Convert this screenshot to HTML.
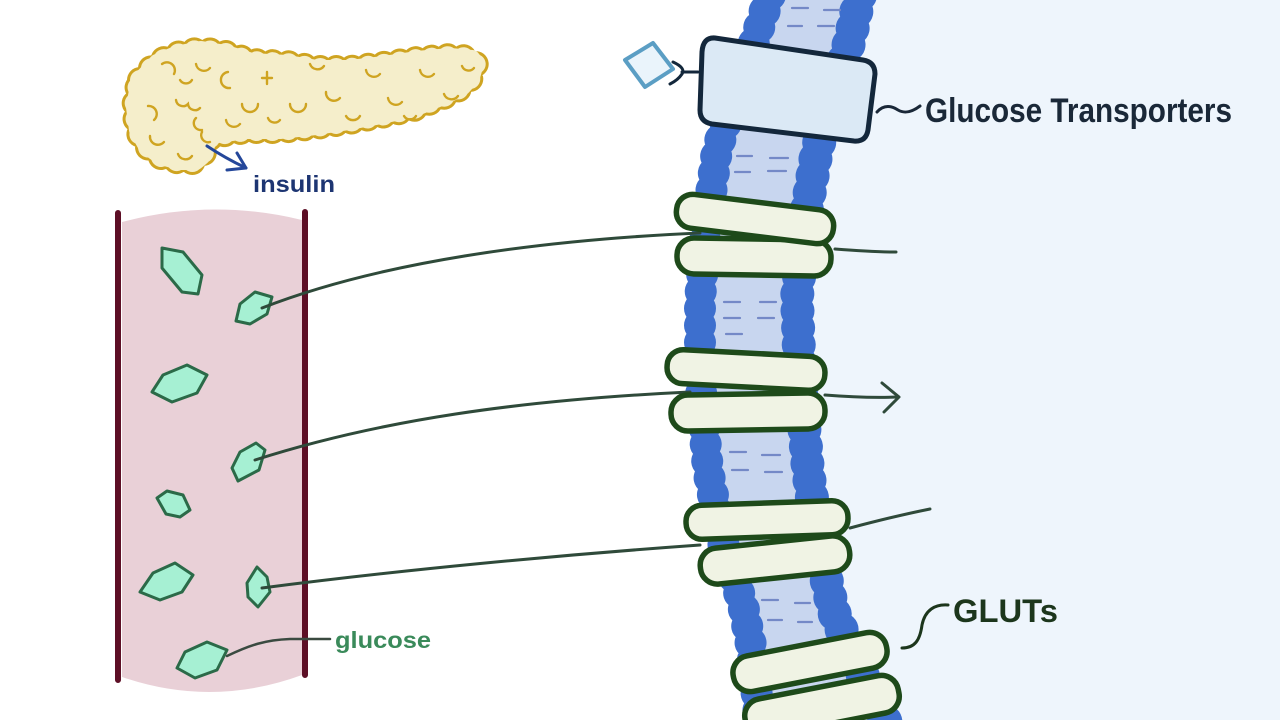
<!DOCTYPE html>
<html><head><meta charset="utf-8"><style>
html,body{margin:0;padding:0;background:#fff;}
svg{display:block;}
text{font-family:"Liberation Sans",sans-serif;font-weight:bold;}
</style></head><body>
<svg width="1280" height="720" viewBox="0 0 1280 720" xmlns="http://www.w3.org/2000/svg">
<rect width="1280" height="720" fill="#ffffff"/>
<!-- right background -->
<path d="M860,0 L850,40 L833,95 L817,150 L805,220 L797,297 L800,380 L808,470 L818,540 L833,610 L855,660 L887,720 L1280,720 L1280,0 Z" fill="#eef5fc"/>

<!-- pancreas -->
<g>
<path d="M140,80 L157,62 L176,54 L201,49 L226,53 L252,61 L287,63 L317,68 L350,68 L383,64 L417,59 L450,56 L472,58 L476,63 L472,77 L463,87 L446,96 L414,109 L381,116 L349,122 L316,127 L280,131 L247,131 L211,136 L202,157 L196,162 L180,162 L161,157 L146,146 L137,130 L134,107 L138,85 Z" fill="none" stroke="#cfa421" stroke-width="26" stroke-linecap="round" stroke-linejoin="round" stroke-dasharray="0.01 16"/>
<path d="M140,80 L157,62 L176,54 L201,49 L226,53 L252,61 L287,63 L317,68 L350,68 L383,64 L417,59 L450,56 L472,58 L476,63 L472,77 L463,87 L446,96 L414,109 L381,116 L349,122 L316,127 L280,131 L247,131 L211,136 L202,157 L196,162 L180,162 L161,157 L146,146 L137,130 L134,107 L138,85 Z" fill="none" stroke="#f5eecb" stroke-width="20" stroke-linecap="round" stroke-linejoin="round" stroke-dasharray="0.01 16"/>
<path d="M140,80 L157,62 L176,54 L201,49 L226,53 L252,61 L287,63 L317,68 L350,68 L383,64 L417,59 L450,56 L472,58 L476,63 L472,77 L463,87 L446,96 L414,109 L381,116 L349,122 L316,127 L280,131 L247,131 L211,136 L202,157 L196,162 L180,162 L161,157 L146,146 L137,130 L134,107 L138,85 Z" fill="#f5eecb" stroke="#f5eecb" stroke-width="16" stroke-linejoin="round"/>
<g fill="none" stroke="#cfa421" stroke-width="2.4" stroke-linecap="round">
<path d="M228,72 a8,8 0 1 0 2,16"/>
<path d="M242,104 a8,8 0 0 0 16,0"/>
<path d="M262,78 l10,0 M267,72 l0,12"/>
<path d="M290,104 a8,8 0 0 0 16,0"/>
<path d="M326,92 a8,8 0 0 0 14,6"/>
<path d="M366,70 a8,8 0 0 0 14,4"/>
<path d="M388,98 a8,8 0 0 0 14,4"/>
<path d="M420,70 a8,8 0 0 0 14,4"/>
<path d="M444,94 a8,8 0 0 0 14,2"/>
<path d="M162,64 a8,8 0 0 1 12,10"/>
<path d="M148,106 a8,8 0 0 1 6,14"/>
<path d="M150,136 a8,8 0 0 0 14,6"/>
<path d="M178,154 a8,8 0 0 0 14,2"/>
<path d="M226,120 a8,8 0 0 0 14,4"/>
<path d="M462,66 a7,7 0 0 0 12,2"/>
<path d="M310,64 a8,8 0 0 0 14,2"/>
<path d="M346,116 a8,8 0 0 0 14,0"/>
<path d="M196,64 a8,8 0 0 0 14,4"/>
<path d="M404,116 a7,7 0 0 0 12,0"/>
<path d="M268,118 a7,7 0 0 0 12,2"/>
<path d="M176,100 a7,7 0 0 0 12,4 a7,7 0 0 0 12,4 M196,118 a7,7 0 0 0 6,12 M202,132 a7,7 0 0 0 8,10"/>
<path d="M180,80 a7,7 0 0 0 12,0"/>
</g>
</g>
<!-- insulin arrow -->
<path d="M207,146 Q225,158 246,168" fill="none" stroke="#24479a" stroke-width="3" stroke-linecap="round"/>
<path d="M227,170 L246,168 L237,153" fill="none" stroke="#24479a" stroke-width="3" stroke-linecap="round" stroke-linejoin="round"/>
<text x="253" y="192" font-size="23" fill="#1d3572" textLength="82" lengthAdjust="spacingAndGlyphs">insulin</text>

<!-- vessel -->
<path d="M122,222 Q212,198 302,220 L302,675 Q212,708 122,677 Z" fill="#e9d0d7"/>
<path d="M118,213 L118,680 M305,212 L305,675" stroke="#5d0f26" stroke-width="6" stroke-linecap="round" fill="none"/>

<!-- glucose hexagons -->
<g fill="#a6f0d3" stroke="#2b6a48" stroke-width="3" stroke-linejoin="round">
<polygon points="162,248 183,252 202,275 198,294 182,292 162,268"/>
<polygon points="236,321 240,304 255,292 272,297 267,314 250,324"/>
<polygon points="152,392 163,375 187,365 207,375 197,393 172,402"/>
<polygon points="232,468 240,452 256,443 265,450 259,470 238,481"/>
<polygon points="157,498 167,491 183,495 190,510 180,517 166,514"/>
<polygon points="140,592 153,573 175,563 193,575 182,592 160,600"/>
<polygon points="247,583 257,567 267,577 270,592 258,607 248,597"/>
<polygon points="177,668 185,652 207,642 227,650 217,670 195,678"/>
</g>
<path d="M227,656 C250,645 265,640 290,639 L330,639" fill="none" stroke="#3a4a40" stroke-width="2.5" stroke-linecap="round"/>
<text x="335" y="648" font-size="23" fill="#3a8a5a" textLength="96" lengthAdjust="spacingAndGlyphs">glucose</text>

<!-- membrane -->
<path d="M770,0 L755,40 L735,95 L717,150 L706,230 L700,300 L700,380 L708,470 L722,540 L743,605 L752,650 L760,720 L887,720 L855,660 L833,610 L818,540 L808,470 L800,380 L797,297 L805,220 L817,150 L833,95 L850,40 L860,0 Z" fill="#c8d6ef"/>
<g fill="none" stroke="#3d6fce" stroke-linecap="round" stroke-linejoin="round">
<path d="M770,0 L755,40 L735,95 L717,150 L706,230 L700,300 L700,380 L708,470 L722,540 L743,605 L752,650 L760,720" stroke-width="20"/>
<path d="M770,-5 L755,40 L735,95 L717,150 L706,230 L700,300 L700,380 L708,470 L722,540 L743,605 L752,650 L760,725" stroke-width="32" stroke-dasharray="0.01 17"/>
<path d="M860,0 L850,40 L833,95 L817,150 L805,220 L797,297 L800,380 L808,470 L818,540 L833,610 L855,660 L887,720" stroke-width="22"/>
<path d="M860,-5 L850,40 L833,95 L817,150 L805,220 L797,297 L800,380 L808,470 L818,540 L833,610 L855,660 L887,725" stroke-width="34" stroke-dasharray="0.01 17"/>
</g>
<g stroke="#7489c7" stroke-width="2.2" stroke-linecap="round">
<path d="M792,8 L808,8 M824,10 L840,10 M788,26 L802,26 M818,26 L834,26"/>
<path d="M737,156 L752,156 M770,158 L788,158 M735,172 L750,172 M768,171 L786,171"/>
<path d="M724,302 L740,302 M760,302 L776,302 M724,318 L740,318 M758,318 L774,318 M726,334 L742,334"/>
<path d="M730,452 L746,452 M762,455 L780,455 M732,470 L748,470 M765,472 L782,472"/>
<path d="M762,600 L778,600 M795,603 L810,603 M768,620 L782,620 M798,622 L812,622"/>
</g>

<!-- transporter -->
<path d="M715,38 L863,60 Q875,62 875,74 L868,130 Q866,142 854,141 L712,124 Q700,122 700,110 L702,52 Q703,37 715,38 Z" fill="#dbe9f5" stroke="#13273b" stroke-width="5" stroke-linejoin="round"/>
<polygon points="625,60 653,43 673,69 645,87" fill="#eaf4fb" stroke="#5b9ec4" stroke-width="4" stroke-linejoin="round"/>
<path d="M673,62 Q686,68 682,74 Q678,80 670,84 M682,72 L698,72" fill="none" stroke="#13273b" stroke-width="3" stroke-linecap="round"/>
<path d="M877,112 C884,104 892,106 898,110 C905,114 912,112 920,106" fill="none" stroke="#1a2838" stroke-width="3" stroke-linecap="round"/>
<text x="925" y="122" font-size="34" fill="#1a2838" textLength="307" lengthAdjust="spacingAndGlyphs">Glucose Transporters</text>

<!-- connector lines -->
<g fill="none" stroke="#2f4a3a" stroke-width="3" stroke-linecap="round">
<path d="M262,308 C380,262 540,240 700,233"/>
<path d="M835,249 C860,251 880,252 896,252"/>
<path d="M255,460 C380,420 520,400 690,392"/>
<path d="M825,395 C850,397 875,398 898,397"/>
<path d="M882,383 L899,397 L884,412" stroke-linejoin="round"/>
<path d="M262,588 C400,570 560,555 700,545"/>
<path d="M850,528 C880,520 905,514 930,509"/>
</g>

<!-- GLUTs -->
<g fill="#f0f3e4" stroke="#1e4a1a" stroke-width="5.5">
<rect x="-77" y="-18" width="154" height="36" rx="17" transform="translate(754,257) rotate(1)"/>
<rect x="-79" y="-17" width="158" height="34" rx="16" transform="translate(755,219) rotate(7)"/>
<rect x="-77" y="-18" width="154" height="36" rx="17" transform="translate(748,412) rotate(-1)"/>
<rect x="-79" y="-17" width="158" height="34" rx="16" transform="translate(746,370) rotate(3)"/>
<rect x="-75" y="-18" width="150" height="36" rx="17" transform="translate(775,560) rotate(-6)"/>
<rect x="-81" y="-17" width="162" height="34" rx="16" transform="translate(767,520) rotate(-2)"/>
<rect x="-78" y="-19" width="156" height="38" rx="17" transform="translate(822,706) rotate(-11)"/>
<rect x="-78" y="-18" width="156" height="36" rx="17" transform="translate(810,662) rotate(-11)"/>
</g>
<path d="M902,648 C915,648 920,640 922,625 C925,610 935,604 948,605" fill="none" stroke="#1c361c" stroke-width="3" stroke-linecap="round"/>
<text x="953" y="622" font-size="32" fill="#1c361c" textLength="105" lengthAdjust="spacingAndGlyphs">GLUTs</text>
</svg>
</body></html>
